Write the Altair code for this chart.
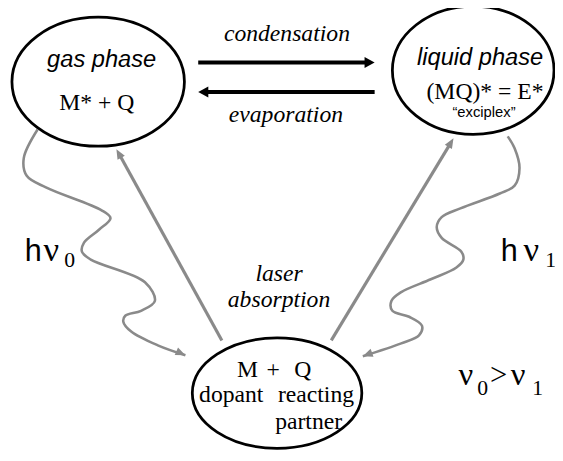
import math
import altair as alt
import pandas as pd

# ---------------- values (page pixel coordinates) ----------------
# ellipses: gas phase, liquid phase, ground state (dopant + partner)
ellipse_cx = [99.5, 480.0, 281.0]
ellipse_cy = [79.5, 68.0, 395.5]
ellipse_rx = [87.5, 82.0, 86.0]
ellipse_ry = [65.5, 65.0, 56.0]

# black phase-change arrows (condensation -> , <- evaporation)
phase_tail_x = [201, 380]
phase_tip_x = [380, 201]
phase_y = [60, 90]

# gray straight arrows (laser absorption)
laser_tail_x = [225, 336]
laser_tail_y = [342, 342]
laser_tip_x = [118, 460]
laser_tip_y = [148, 137]

# gray wavy emission arrows
wave0_x = [38, 24, 27, 47, 103, 112, 100, 85, 83, 92, 147, 157, 143, 127, 125, 133, 160, 188]
wave0_y = [128, 157, 175, 187, 210, 218, 230, 243, 252, 260, 283, 302, 312, 317, 323, 333, 347, 357]
wave1_x = [515, 522, 527, 522, 507, 467, 448, 443, 448, 468, 470, 463, 437, 407, 397, 398, 415, 428, 425, 407, 368]
wave1_y = [135, 147, 167, 185, 193, 208, 217, 227, 238, 252, 260, 268, 280, 293, 302, 312, 318, 327, 337, 345, 358]

# labels
sans_italic_text = ["gas phase", "liquid phase"]
sans_italic_x = [103, 487]
sans_italic_y = [65, 63]
sans_italic_size = [24, 24]

sans_text = ["\u201cexciplex\u201d", "h", "h"]
sans_x = [491, 25, 508]
sans_y = [115, 261, 261]
sans_size = [15, 31, 31]
sans_align_left = [False, True, True]

serif_italic_text = ["condensation", "evaporation", "laser", "absorption"]
serif_italic_x = [291, 290, 283, 283]
serif_italic_y = [38, 120, 282, 308]
serif_italic_size = [24, 24, 24, 24]

serif_text = ["M* + Q", "(MQ)* = E*", "M", "+", "Q", "dopant", "reacting", "partner"]
serif_x = [98, 492, 251, 277, 307, 234.5, 320.5, 313]
serif_y = [108, 97, 379, 379, 379, 405, 405, 432]
serif_size = [24, 24, 24, 24, 24, 24, 24, 24]

greek_text = ["\u03bd", "0", "\u03bd", "1", "\u03bd", "0", ">", "\u03bd", "1"]
greek_x = [44, 65, 531, 553, 465, 484, 497, 518, 540]
greek_y = [261, 268, 261, 268, 387, 397, 387, 387, 397]
greek_size = [35, 22, 35, 22, 33, 22, 31, 33, 22]

# ---------------- drawing ----------------
W, H, MARGIN = 563, 461, 8
PLOT_W = W - MARGIN          # svg may reach the right window edge
PLOT_H = H - 2 * MARGIN
GRAY = "#8a8a8a"
xs = alt.Scale(domain=[MARGIN, MARGIN + PLOT_W], nice=False, zero=False)
ys = alt.Scale(domain=[MARGIN, MARGIN + PLOT_H], nice=False, zero=False, reverse=True)


def X(f="x"):
    return alt.X(f"{f}:Q", scale=xs, axis=None)


def Y(f="y"):
    return alt.Y(f"{f}:Q", scale=ys, axis=None)


layers = []

# wavy lines
for wx, wy in [(wave0_x, wave0_y), (wave1_x, wave1_y)]:
    df = pd.DataFrame({"x": wx, "y": wy, "i": list(range(len(wx)))})
    layers.append(
        alt.Chart(df).mark_line(interpolate="catmull-rom", strokeWidth=2.6, color=GRAY)
        .encode(x=X(), y=Y(), order="i:Q")
    )


def heading(x0, y0, x1, y1):
    # clockwise angle from "up" of the direction (x0,y0)->(x1,y1), screen coordinates
    a = math.degrees(math.atan2(x1 - x0, -(y1 - y0)))
    return a % 360


head_path_gray = "M0,0L-0.42,1L0.42,1Z"
head_path_black = "M0,0L-0.55,1L0.55,1Z"

# arrowheads for wavy lines
wave_heads = pd.DataFrame({
    "x": [wave0_x[-1], wave1_x[-1]],
    "y": [wave0_y[-1], wave1_y[-1]],
    "a": [heading(wave0_x[-3], wave0_y[-3], wave0_x[-1], wave0_y[-1]),
          heading(wave1_x[-3], wave1_y[-3], wave1_x[-1], wave1_y[-1])],
})
layers.append(
    alt.Chart(wave_heads).mark_point(shape=head_path_gray, size=400, filled=True,
                                     color=GRAY, opacity=1, strokeWidth=0)
    .encode(x=X(), y=Y(), angle=alt.Angle("a:Q", scale=None))
)

# straight gray arrows
HEAD = 10
rows = []
for tx, ty, hx, hy in zip(laser_tail_x, laser_tail_y, laser_tip_x, laser_tip_y):
    L = math.hypot(hx - tx, hy - ty)
    ex = hx - (hx - tx) / L * (HEAD - 2)
    ey = hy - (hy - ty) / L * (HEAD - 2)
    rows.append({"x": tx, "y": ty, "x2": ex, "y2": ey, "hx": hx, "hy": hy,
                 "a": heading(tx, ty, hx, hy)})
laser_df = pd.DataFrame(rows)
layers.append(
    alt.Chart(laser_df).mark_rule(strokeWidth=3.2, color=GRAY)
    .encode(x=X(), y=Y(), x2="x2:Q", y2="y2:Q")
)
layers.append(
    alt.Chart(laser_df).mark_point(shape=head_path_gray, size=400, filled=True,
                                   color=GRAY, opacity=1, strokeWidth=0)
    .encode(x=X("hx"), y=Y("hy"), angle=alt.Angle("a:Q", scale=None))
)

# black phase arrows
rows = []
for tx, hx, y in zip(phase_tail_x, phase_tip_x, phase_y):
    d = 1 if hx > tx else -1
    rows.append({"x": tx, "x2": hx - d * (HEAD - 2), "y": y, "hx": hx,
                 "a": 90 if d > 0 else 270})
phase_df = pd.DataFrame(rows)
layers.append(
    alt.Chart(phase_df).mark_rule(strokeWidth=4, color="black")
    .encode(x=X(), y=Y(), x2="x2:Q")
)
layers.append(
    alt.Chart(phase_df).mark_point(shape=head_path_black, size=420, filled=True,
                                   color="black", opacity=1, strokeWidth=0)
    .encode(x=X("hx"), y=Y(), angle=alt.Angle("a:Q", scale=None))
)

# ellipses
for cx, cy, rx, ry in zip(ellipse_cx, ellipse_cy, ellipse_rx, ellipse_ry):
    r = ry / rx
    path = f"M-1,0A1,{r:.4f},0,1,1,1,0A1,{r:.4f},0,1,1,-1,0Z"
    layers.append(
        alt.Chart(pd.DataFrame({"x": [cx], "y": [cy]}))
        .mark_point(shape=path, size=(2 * rx) ** 2, filled=False, color="black",
                    strokeWidth=2.8, opacity=1)
        .encode(x=X(), y=Y())
    )


def text_layer(texts, xv, yv, sizes, font, style, align):
    df = pd.DataFrame({"t": texts, "x": xv, "y": yv, "s": sizes})
    return (
        alt.Chart(df).mark_text(font=font, fontStyle=style, align=align,
                                baseline="alphabetic", color="black")
        .encode(x=X(), y=Y(), text="t:N", size=alt.Size("s:Q", scale=None))
    )


layers.append(text_layer(sans_italic_text, sans_italic_x, sans_italic_y, sans_italic_size,
                         "Liberation Sans", "italic", "center"))
c_idx = [i for i, f in enumerate(sans_align_left) if not f]
l_idx = [i for i, f in enumerate(sans_align_left) if f]
layers.append(text_layer([sans_text[i] for i in c_idx], [sans_x[i] for i in c_idx],
                         [sans_y[i] for i in c_idx], [sans_size[i] for i in c_idx],
                         "Liberation Sans", "normal", "center"))
layers.append(text_layer([sans_text[i] for i in l_idx], [sans_x[i] for i in l_idx],
                         [sans_y[i] for i in l_idx], [sans_size[i] for i in l_idx],
                         "Liberation Sans", "normal", "left"))
layers.append(text_layer(serif_italic_text, serif_italic_x, serif_italic_y, serif_italic_size,
                         "Liberation Serif", "italic", "center"))
layers.append(text_layer(serif_text, serif_x, serif_y, serif_size,
                         "Liberation Serif", "normal", "center"))
layers.append(text_layer(greek_text, greek_x, greek_y, greek_size,
                         "Liberation Serif", "normal", "left"))

chart = (
    alt.layer(*layers)
    .properties(width=PLOT_W, height=PLOT_H, padding=0,
                autosize=alt.AutoSizeParams(type="none"))
    .configure_view(stroke=None)
)

chart.save("out.html", embed_options={"renderer": "svg", "actions": False})
